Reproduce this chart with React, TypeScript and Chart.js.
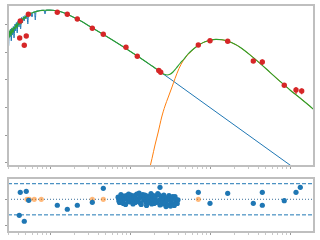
import React, { useEffect, useRef } from "react";
import { Chart, registerables } from "chart.js";

Chart.register(...registerables);

// ---- axis ranges and ticks ----
const X_RANGE = [0.2985, 1995];
const FLUX_RANGE = [0.00766, 4977];
const RESID_RANGE = [-6.3, 4.1];
const X_TICK_DECADES = [0.1, 1, 10, 100, 1000];
const X_TICK_MULT = [1, 2, 3, 4, 5, 6, 7, 8, 9];
const FLUX_TICKS = [0.01, 0.1, 1, 10, 100, 1000];
const RESID_TICKS = [-5, 0];
const RESID_LIMITS = [3, -3];
const RESID_ZERO = [0];

// ---- stellar model (blue) ----
const STAR_WAVE = [
  0.2985, 0.3037, 0.309, 0.3162, 0.3217, 0.3283, 0.335, 0.3408, 0.3478, 0.3548,
  0.3652, 0.3715, 0.3802, 0.389, 0.3981, 0.4097, 0.4193, 0.429, 0.4403, 0.4519,
  0.4637, 0.476, 0.487, 0.5012, 0.5158, 0.5278, 0.5401, 0.5543, 0.5788, 0.5957,
  0.6131, 0.6401, 0.655, 0.6683, 0.7079, 0.7499, 0.7943, 0.8414, 0.866, 0.8913,
  0.9441, 1, 1.09, 1.189, 1.334, 1.54, 1.778, 2.054, 2.371, 3.162,
  4.217, 5.623, 7.499, 10, 13.34, 17.78, 23.71, 31.62, 42.17, 74.99,
  316.2, 1090, 1995,
];
const STAR_FLUX = [
  446, 165, 573, 348, 677, 250, 735, 411, 833, 320,
  1025, 573, 1161, 485, 1316, 799, 1554, 677, 1760, 1114,
  1912, 1316, 2078, 1554, 2258, 1025, 2454, 1993, 2602, 1834,
  2712, 2827, 1430, 2946, 3046, 3149, 3201, 3201, 2354, 3228,
  3256, 3256, 3201, 3097, 2898, 2516, 2078, 1689, 1372, 833,
  506, 307, 183, 107, 61.7, 35.1, 19.3, 10.8, 5.92, 1.79,
  0.0905, 0.00694, 0.00198,
];

// ---- dust model (orange) ----
const DUST_WAVE = [
  16.79, 17.78, 18.84, 20.54, 22.39, 24.91, 27.38, 30.11, 33.5, 36.52, 40.97,
  46.38, 53.09, 59.57, 66.83, 74.99, 86.6, 100, 118.9, 141.3, 167.9, 205.4,
  237.1, 316.2, 421.7, 562.3, 749.9, 1000, 1334, 1778, 1995,
];
const DUST_FLUX = [
  0.00334, 0.00705, 0.0143, 0.0439, 0.119, 0.45, 1.12, 2.37, 5.45, 11.0, 25.4,
  49.3, 81.2, 113, 152, 190, 234, 267, 285, 276, 243, 190,
  149, 79.2, 39.1, 18.5, 8.75, 4.25, 2.19, 1.1, 0.819,
];

// ---- total model (green) ----
const TOTAL_WAVE = [
  0.2985, 0.3073, 0.3162, 0.3255, 0.335, 0.3448, 0.3548, 0.3652, 0.3758, 0.3868,
  0.3981, 0.4097, 0.4217, 0.434, 0.4467, 0.4597, 0.4732, 0.487, 0.5012, 0.5158,
  0.5309, 0.5464, 0.5623, 0.5957, 0.631, 0.6683, 0.7079, 0.7499, 0.7943, 0.8414,
  0.8913, 0.9441, 1, 1.09, 1.189, 1.334, 1.54, 1.778, 2.054, 2.371,
  3.162, 4.217, 5.623, 7.499, 10, 13.34, 17.78, 20.54, 22.39, 25.12,
  27.38, 29.0, 31.62, 34.47, 37.58, 42.17, 47.32, 53.09, 59.57, 66.83,
  74.99, 86.6, 100, 118.9, 141.3, 167.9, 205.4, 237.1, 316.2, 421.7,
  562.3, 749.9, 1000, 1334, 1778, 1995,
];
const TOTAL_FLUX = [
  527, 320, 623, 378, 735, 485, 799, 677, 1025, 735,
  1211, 943, 1430, 1025, 1620, 1430, 1834, 1620, 1993, 1834,
  2203, 2078, 2454, 2558, 2734, 2874, 2996, 3097, 3175, 3201,
  3228, 3256, 3256, 3201, 3097, 2898, 2516, 2078, 1689, 1372,
  833, 506, 307, 183, 107, 61.7, 35.1, 26.5, 22.0, 17.2,
  15.3, 14.8, 15.7, 19.0, 25.4, 38.5, 55.9, 84.7, 116, 152,
  190, 234, 267, 285, 276, 243, 190, 149, 79.2, 39.1,
  18.5, 8.75, 4.25, 2.19, 1.1, 0.819,
];

// ---- photometry (red, with errors) ----
const PHOT_WAVE = [
  0.418, 0.477, 0.505, 0.425, 0.536, 1.234, 1.645, 2.195, 3.38, 4.636, 8.91,
  12.34, 22.9, 24.2, 71.4, 100, 166.4, 347.7, 450.6, 848, 1189, 1400,
];
const PHOT_FLUX = [
  320, 175, 378, 1315, 2296, 2710, 2296, 1553, 718, 436, 148,
  70, 21.5, 18.5, 179, 256, 243, 47.3, 43.6, 6.28, 4.25, 3.91,
];
const PHOT_ERR = [
  15, 8, 18, 60, 100, 120, 100, 70, 30, 20, 7,
  3.5, 1, 1, 9, 13, 12, 4, 10, 0.5, 1.2, 0.9,
];

// ---- residuals ----
const RESID_WAVE = [
  0.413, 0.425, 0.477, 0.505, 0.542, 1.234, 1.645, 2.195, 3.38, 4.636,
  23.71, 71.4, 100, 166.4, 347.7, 450.6, 450.6, 848, 1189, 1345,
];
const RESID_VAL = [
  -3.08, 1.35, -4.23, 1.54, -0.19, -1.15, -1.92, -1.15, -0.58, 2.12,
  2.31, 1.35, -0.77, 1.15, -0.77, 1.35, -1.15, -0.27, 1.35, 2.31,
];
const SPEC_RESID_WAVE = [
  7.1, 7.4, 7.7, 8.1, 8.4, 8.8, 9.2, 9.6, 10.0, 10.5, 10.9, 11.4, 11.9, 12.4,
  13.0, 13.5, 14.1, 14.8, 15.4, 16.1, 16.8, 17.5, 18.3, 19.1, 20.0, 20.8, 21.8,
  22.7, 23.7, 24.8, 25.9, 27.0, 28.2, 29.4, 30.7, 32.1, 33.5, 35.0, 36.5, 38.1, 39.8,
];
const SPEC_RESID_VAL = [
  0.4, -0.6, 0.9, -0.2, 0.6, -1.0, 0.2, 1.0, -0.5, 0.3, -0.9, 0.7, 0.1, -0.4,
  1.2, -0.7, 0.5, -0.1, 0.8, -1.2, 0.3, -0.6, 1.1, 0.0, -0.8, 0.6, -0.3,
  0.9, -1.1, 0.4, -0.5, 0.2, -1.4, -0.2, 0.7, -1.3, 0.1, -0.9, 0.5, -0.4, -0.1,
];
const SPEC_RESID_WAVE_B = [
  7.25, 7.55, 7.9, 8.25, 8.6, 9.0, 9.4, 9.8, 10.25, 10.7, 11.15, 11.65, 12.15,
  12.7, 13.25, 13.8, 14.45, 15.1, 15.75, 16.45, 17.15, 17.9, 18.7, 19.55, 20.4,
  21.3, 22.25, 23.2, 24.25, 25.35, 26.45, 27.6, 28.8, 30.05, 31.4, 32.8, 34.25,
  35.75, 37.3, 38.95,
];
const SPEC_RESID_VAL_B = [
  -0.3, 0.2, 0.5, -0.8, 0.1, 0.7, -0.4, 0.3, 0.8, -0.2, 0.4, -0.6, 1.0,
  0.0, 0.5, -1.0, 0.9, 0.2, -0.5, 0.6, -0.1, 0.4, -0.9, 0.7, 0.2,
  -0.6, 1.1, -0.2, 0.6, -0.9, 0.8, -0.7, 0.3, -1.1, 0.2, -0.6, 0.5,
  -1.2, 0.0, -0.8,
];
const LIMIT_WAVE = [0.516, 0.551, 0.636, 0.778, 3.38, 4.636, 71.4];
const LIMIT_RESID = [0, 0, 0, 0, 0, 0, 0];

const BLUE = "#1f77b4";
const ORANGE = "#ff7f0e";
const GREEN = "#2ca02c";
const RED = "#d62728";
const FRAME = "#bfbfbf";

const pts = (xs: number[], ys: number[]) => xs.map((x, i) => ({ x, y: ys[i] }));

const X_TICKS: { value: number; major: boolean }[] = [];
X_TICK_DECADES.forEach((d) =>
  X_TICK_MULT.forEach((m) => {
    const v = d * m;
    if (v >= X_RANGE[0] && v <= X_RANGE[1]) X_TICKS.push({ value: v, major: m === 1 });
  })
);

const framePlugin = {
  id: "frame",
  afterDatasetsDraw(chart: any) {
    const { ctx, chartArea: a } = chart;
    ctx.save();
    ctx.strokeStyle = FRAME;
    ctx.lineWidth = 2;
    ctx.strokeRect(a.left, a.top, a.right - a.left, a.bottom - a.top);
    ctx.restore();
  },
};

const errorBarPlugin = {
  id: "errbars",
  afterDatasetsDraw(chart: any) {
    const xs = chart.scales.x;
    const ys = chart.scales.y;
    const ctx = chart.ctx;
    ctx.save();
    ctx.strokeStyle = RED;
    ctx.lineWidth = 1.2;
    PHOT_WAVE.forEach((w, i) => {
      const px = xs.getPixelForValue(w);
      const y1 = ys.getPixelForValue(PHOT_FLUX[i] - PHOT_ERR[i]);
      const y2 = ys.getPixelForValue(PHOT_FLUX[i] + PHOT_ERR[i]);
      ctx.beginPath();
      ctx.moveTo(px, y1);
      ctx.lineTo(px, y2);
      ctx.stroke();
    });
    ctx.restore();
  },
};

const tickGrid = {
  display: true,
  drawOnChartArea: false,
  drawTicks: true,
  tickLength: 3,
  tickWidth: 1,
  tickColor: (c: any) => (c.tick && c.tick.major ? "#9a9a9a" : "#c8c8c8"),
};

const xAxis = () => ({
  type: "logarithmic",
  min: X_RANGE[0],
  max: X_RANGE[1],
  afterBuildTicks: (s: any) => {
    s.ticks = X_TICKS.map((t) => ({ ...t }));
  },
  afterFit: (s: any) => {
    s.height = 4;
  },
  ticks: { display: false, autoSkip: false },
  grid: tickGrid,
  border: { display: false },
});

const yAxis = (type: string, range: number[], ticks: number[]) => ({
  type,
  min: range[0],
  max: range[1],
  afterBuildTicks: (s: any) => {
    s.ticks = ticks.map((v) => ({ value: v, major: true }));
  },
  afterFit: (s: any) => {
    s.width = 8;
  },
  ticks: { display: false, autoSkip: false },
  grid: tickGrid,
  border: { display: false },
});

export default function App() {
  const topRef = useRef<HTMLCanvasElement>(null);
  const botRef = useRef<HTMLCanvasElement>(null);

  useEffect(() => {
    const common = {
      animation: false,
      responsive: false,
      devicePixelRatio: 1,
      events: [],
      plugins: { legend: { display: false }, tooltip: { enabled: false } },
    };
    const top = new Chart(topRef.current as HTMLCanvasElement, {
      type: "line",
      data: {
        datasets: [
          {
            data: pts(PHOT_WAVE, PHOT_FLUX),
            showLine: false,
            pointRadius: 2.7,
            pointBackgroundColor: RED,
            pointBorderWidth: 0,
            order: 1,
          },
          {
            data: pts(TOTAL_WAVE, TOTAL_FLUX),
            borderColor: GREEN,
            borderWidth: 1.1,
            pointRadius: 0,
            cubicInterpolationMode: "monotone",
            order: 3,
          },
          {
            data: pts(DUST_WAVE, DUST_FLUX),
            borderColor: ORANGE,
            borderWidth: 1,
            pointRadius: 0,
            cubicInterpolationMode: "monotone",
            order: 4,
          },
          {
            data: pts(STAR_WAVE, STAR_FLUX),
            borderColor: BLUE,
            borderWidth: 1,
            pointRadius: 0,
            cubicInterpolationMode: "monotone",
            order: 5,
          },
        ],
      } as any,
      options: {
        ...common,
        layout: { padding: { top: 5, right: 6, bottom: 70, left: 0 } },
        scales: {
          x: xAxis(),
          y: yAxis("logarithmic", FLUX_RANGE, FLUX_TICKS),
        },
      } as any,
      plugins: [errorBarPlugin, framePlugin],
    });

    const bot = new Chart(botRef.current as HTMLCanvasElement, {
      type: "line",
      data: {
        datasets: [
          {
            data: pts(SPEC_RESID_WAVE, SPEC_RESID_VAL)
              .concat(pts(SPEC_RESID_WAVE_B, SPEC_RESID_VAL_B))
              .concat(pts(RESID_WAVE, RESID_VAL))
              .sort((a, b) => a.x - b.x),
            showLine: false,
            pointRadius: 2.6,
            pointBackgroundColor: BLUE,
            pointBorderWidth: 0,
            order: 1,
          },
          {
            data: pts(LIMIT_WAVE, LIMIT_RESID),
            showLine: false,
            pointRadius: 2.6,
            pointBackgroundColor: "rgba(255,127,14,0.55)",
            pointBorderWidth: 0,
            order: 2,
          },
          ...RESID_LIMITS.map((v) => ({
            data: pts(X_RANGE, [v, v]),
            borderColor: BLUE,
            borderWidth: 1,
            borderDash: [4, 2],
            pointRadius: 0,
            order: 5,
          })),
          ...RESID_ZERO.map((v) => ({
            data: pts(X_RANGE, [v, v]),
            borderColor: "#3b6f99",
            borderWidth: 1,
            borderDash: [1, 2],
            pointRadius: 0,
            order: 5,
          })),
        ],
      } as any,
      options: {
        ...common,
        layout: { padding: { top: 178, right: 6, bottom: 4, left: 0 } },
        scales: {
          x: xAxis(),
          y: yAxis("linear", RESID_RANGE, RESID_TICKS),
        },
      } as any,
      plugins: [framePlugin],
    });

    return () => {
      top.destroy();
      bot.destroy();
    };
  }, []);

  return (
    <div style={{ position: "absolute", left: 0, top: 0, width: 320, height: 240, background: "#fff" }}>
      <canvas ref={topRef} width={320} height={240} style={{ position: "absolute", left: 0, top: 0 }} />
      <canvas ref={botRef} width={320} height={240} style={{ position: "absolute", left: 0, top: 0 }} />
    </div>
  );
}
